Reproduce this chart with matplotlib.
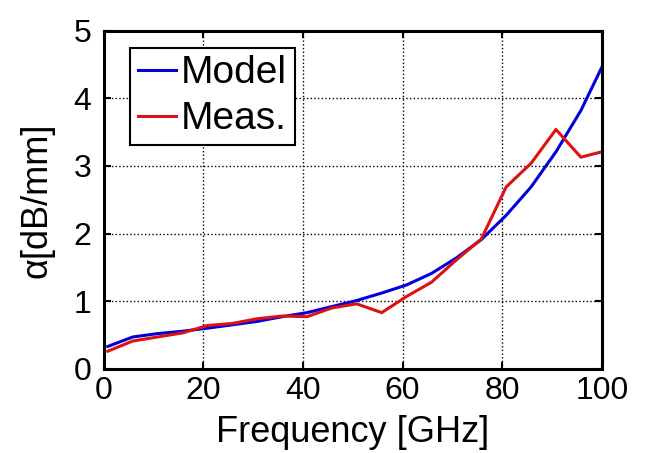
import matplotlib
matplotlib.use("Agg")
import matplotlib.pyplot as plt

plt.rcParams['font.family'] = ['Liberation Sans', 'DejaVu Sans']

# Frequency points [GHz]
freq = [0.8, 5.8, 10.8, 15.8, 20.8, 25.8, 30.8, 35.8, 40.8, 45.8,
        50.8, 55.8, 60.8, 65.8, 70.8, 75.8, 80.8, 85.8, 90.8, 95.8, 100]

# attenuation [dB/mm]
model = [0.33, 0.47, 0.52, 0.555, 0.60, 0.65, 0.70, 0.77, 0.83, 0.92,
         1.01, 1.12, 1.24, 1.41, 1.64, 1.91, 2.27, 2.69, 3.21, 3.82, 4.46]
meas = [0.26, 0.41, 0.47, 0.53, 0.64, 0.67, 0.74, 0.78, 0.77, 0.90,
        0.96, 0.83, 1.07, 1.28, 1.61, 1.92, 2.69, 3.04, 3.54, 3.13, 3.21]

xticks = [0, 20, 40, 60, 80, 100]
yticks = [0, 1, 2, 3, 4, 5]

fig = plt.figure(figsize=(6.45, 4.53), dpi=100)
ax = fig.add_axes([0.161, 0.186, 0.772, 0.746])

ax.plot(freq, model, color='#0000dd', lw=2.2, label='Model')
ax.plot(freq, meas, color='#dd1111', lw=2.2, label='Meas.')

ax.set_xlim(0, 100)
ax.set_ylim(0, 5)
ax.set_xticks(xticks)
ax.set_yticks(yticks)
ax.grid(True, color='black', linestyle=':', linewidth=1.0)

for s in ax.spines.values():
    s.set_linewidth(2.2)
ax.tick_params(direction='in', top=True, right=True, width=1.5, length=5,
               labelsize=23)
ax.tick_params(axis='y', pad=9)
ax.tick_params(axis='x', pad=5)

ax.set_xlabel('Frequency [GHz]', fontsize=26, labelpad=7)
ax.set_ylabel('α[dB/mm]', fontsize=26, labelpad=14)

leg = ax.legend(loc='upper left', bbox_to_anchor=(0.052, 0.95),
                fontsize=28, handlelength=1.0,
                handletextpad=0.12, borderpad=0.2, labelspacing=0.25,
                fancybox=False, framealpha=1, edgecolor='black',
                borderaxespad=0)
leg.get_frame().set_linewidth(1.5)

fig.savefig('out.png', dpi=100)
